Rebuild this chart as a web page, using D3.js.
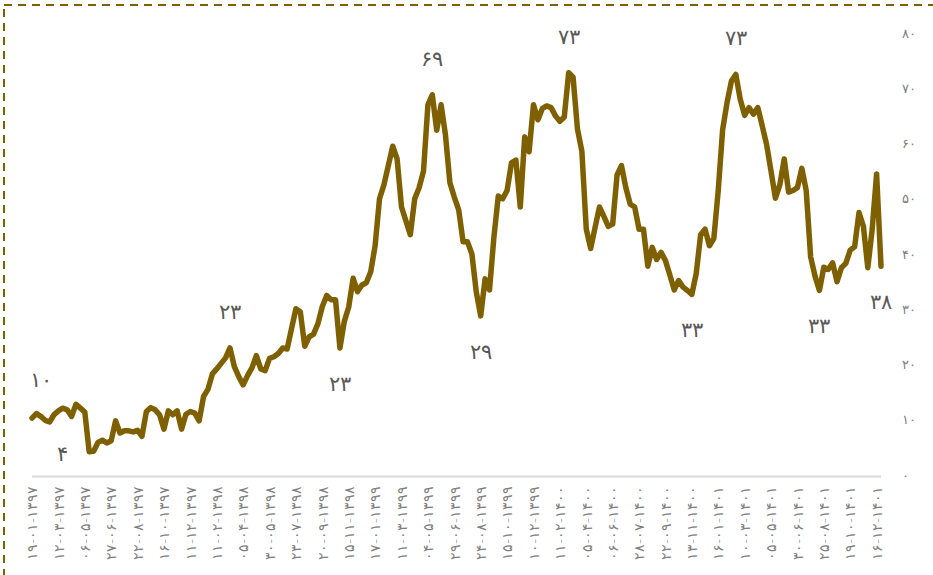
<!DOCTYPE html>
<html>
<head>
<meta charset="utf-8">
<script src="https://cdn.jsdelivr.net/npm/d3@7"></script>
<style>
  html, body { margin: 0; padding: 0; background: #fff; }
  svg { display: block; font-family: "DejaVu Sans", sans-serif; }
</style>
</head>
<body>
<div id="chart"></div>
<script>
// --- Data ---
// date labels shown on the category axis (one every 6 points)
const dateLabels = [
  "۱۹-۰۱-۱۳۹۷", "۱۲-۰۳-۱۳۹۷", "۰۶-۰۵-۱۳۹۷", "۲۷-۰۶-۱۳۹۷", "۲۲-۰۸-۱۳۹۷",
  "۱۶-۱۰-۱۳۹۷", "۱۱-۱۲-۱۳۹۷", "۱۱-۰۲-۱۳۹۸", "۰۵-۰۴-۱۳۹۸", "۳۰-۰۵-۱۳۹۸",
  "۲۳-۰۷-۱۳۹۸", "۲۰-۰۹-۱۳۹۸", "۱۵-۱۱-۱۳۹۸", "۱۷-۰۱-۱۳۹۹", "۱۱-۰۳-۱۳۹۹",
  "۰۴-۰۵-۱۳۹۹", "۲۹-۰۶-۱۳۹۹", "۲۴-۰۸-۱۳۹۹", "۱۵-۱۰-۱۳۹۹", "۱۰-۱۲-۱۳۹۹",
  "۱۱-۰۲-۱۴۰۰", "۰۵-۰۴-۱۴۰۰", "۰۶-۰۶-۱۴۰۰", "۲۸-۰۷-۱۴۰۰", "۲۲-۰۹-۱۴۰۰",
  "۱۳-۱۱-۱۴۰۰", "۱۶-۰۱-۱۴۰۱", "۱۰-۰۳-۱۴۰۱", "۰۵-۰۵-۱۴۰۱", "۳۰-۰۶-۱۴۰۱",
  "۲۵-۰۸-۱۴۰۱", "۱۹-۱۰-۱۴۰۱", "۱۶-۱۲-۱۴۰۱"
];
const labelEvery = 6;

// series values
const values = [
  10.3, 11.1, 10.6, 9.9, 9.6, 10.9, 11.6, 12.1, 11.8, 10.6,
  12.8, 12.1, 11.4, 4.2, 4.3, 5.9, 6.3, 5.8, 6.2, 9.8,
  7.6, 8.0, 8.0, 7.8, 8.1, 7.0, 11.5, 12.2, 11.8, 10.9,
  8.3, 11.6, 10.9, 11.6, 8.3, 11.0, 11.5, 11.2, 9.8, 14.2,
  15.5, 18.3, 19.2, 20.2, 21.2, 23.0, 19.6, 17.8, 16.3, 18.0,
  19.4, 21.6, 19.2, 18.9, 21.1, 21.4, 22.0, 23.0, 22.8, 26.5,
  30.1, 29.5, 23.3, 25.0, 25.5, 27.4, 30.5, 32.5, 31.7, 31.7,
  23.0, 27.8, 30.4, 35.6, 33.2, 34.4, 34.8, 36.8, 41.5, 50.0,
  52.5, 56.0, 59.5, 57.2, 48.5, 46.0, 43.5, 50.0, 52.0, 55.0,
  67.0, 68.8, 62.4, 67.0, 61.5, 52.9, 50.3, 48.0, 42.2, 42.2,
  40.0, 33.1, 28.8, 35.5, 33.5, 43.0, 50.5, 50.0, 51.5, 56.5,
  57.0, 48.5, 61.2, 58.5, 67.0, 64.3, 66.3, 66.8, 66.5, 65.0,
  64.0, 64.8, 72.8, 72.0, 62.6, 58.6, 44.5, 41.0, 44.8, 48.5,
  46.8, 45.0, 45.4, 54.3, 56.0, 52.0, 49.0, 48.5, 44.5, 44.5,
  37.8, 41.2, 39.0, 40.3, 38.8, 36.2, 33.5, 35.2, 34.0, 33.4,
  32.7, 36.5, 43.5, 44.5, 41.5, 42.8, 51.5, 62.5, 67.4, 71.3,
  72.5, 68.0, 65.1, 66.5, 65.3, 66.5, 63.2, 59.8, 55.0, 50.1,
  52.5, 57.2, 51.2, 51.5, 52.0, 55.5, 51.5, 39.5, 36.0, 33.4,
  37.6, 37.2, 38.4, 35.0, 37.5, 38.3, 40.7, 41.3, 47.5, 45.0,
  37.5, 44.5, 54.5, 37.8
];

// y axis ticks
const yTicks = [0, 10, 20, 30, 40, 50, 60, 70, 80];
const yTickLabels = ["۰", "۱۰", "۲۰", "۳۰", "۴۰", "۵۰", "۶۰", "۷۰", "۸۰"];

// data labels on selected points
const annoIndex = [2, 13, 45, 70, 91, 102, 122, 150, 160, 179, 193];
const annoText = ["۱۰", "۴", "۲۳", "۲۳", "۶۹", "۲۹", "۷۳", "۳۳", "۷۳", "۳۳", "۳۸"];
const annoSide = ["above", "left", "above", "below", "above", "below", "above", "below", "above", "below", "below"];

// --- Setup ---
const W = 933, H = 575;
const svg = d3.select("#chart").append("svg")
    .attr("width", W)
    .attr("height", H);

const x = d3.scaleLinear().domain([0, values.length - 1]).range([32, 881]);
const y = d3.scaleLinear().domain([0, 80]).range([475, 33]);

// dashed chart border (only top and left visible)
svg.append("rect")
    .attr("x", 4).attr("y", 5)
    .attr("width", 1200).attr("height", 1200)
    .attr("fill", "none")
    .attr("stroke", "#7f6000")
    .attr("stroke-width", 2)
    .attr("stroke-dasharray", "8,6");

// x axis baseline
svg.append("line")
    .attr("x1", x(0)).attr("x2", x(values.length - 1))
    .attr("y1", 476.5).attr("y2", 476.5)
    .attr("stroke", "#d9d9d9")
    .attr("stroke-width", 2);

// x axis labels
const xAxis = d3.axisBottom(x)
    .tickValues(dateLabels.map((_, j) => j * labelEvery))
    .tickFormat((d) => dateLabels[d / labelEvery])
    .tickSize(0);

const xg = svg.append("g")
    .attr("transform", "translate(0,476)")
    .call(xAxis);
xg.select(".domain").remove();
xg.selectAll("text")
    .attr("transform", "rotate(-90)")
    .attr("x", -10)
    .attr("y", 0)
    .attr("dy", "0.35em")
    .attr("text-anchor", "end")
    .attr("fill", "#7f7f7f")
    .style("font-size", "13.5px")
    .style("font-weight", "300")
    .style("font-family", "DejaVu Sans, sans-serif");

// y axis on the right
const yAxis = d3.axisRight(y)
    .tickValues(yTicks)
    .tickFormat((d, i) => yTickLabels[i])
    .tickSize(0);
const yg = svg.append("g")
    .attr("transform", "translate(900,0)")
    .call(yAxis);
yg.select(".domain").remove();
yg.selectAll("text")
    .attr("x", 2)
    .attr("fill", "#7f7f7f")
    .style("font-size", "12.5px")
    .style("font-weight", "300")
    .style("font-family", "DejaVu Sans, sans-serif");

// line
const line = d3.line()
    .x((d, i) => x(i))
    .y((d) => y(d));

svg.append("path")
    .datum(values)
    .attr("d", line)
    .attr("fill", "none")
    .attr("stroke", "#7f6000")
    .attr("stroke-width", 5.5)
    .attr("stroke-linejoin", "round")
    .attr("stroke-linecap", "round");

// data labels
svg.append("g").selectAll("text")
    .data(annoIndex)
    .join("text")
    .attr("x", (d, k) => x(d) + (annoSide[k] === "left" ? -27 : 0))
    .attr("y", (d, k) => y(values[d]) + (annoSide[k] === "above" ? -36 : annoSide[k] === "below" ? 36 : 2))
    .attr("dominant-baseline", "central")
    .attr("text-anchor", "middle")
    .attr("fill", "#595959")
    .style("font-size", "21px")
    .style("font-weight", "300")
    .style("font-family", "DejaVu Sans, sans-serif")
    .text((d, k) => annoText[k]);
</script>
</body>
</html>
